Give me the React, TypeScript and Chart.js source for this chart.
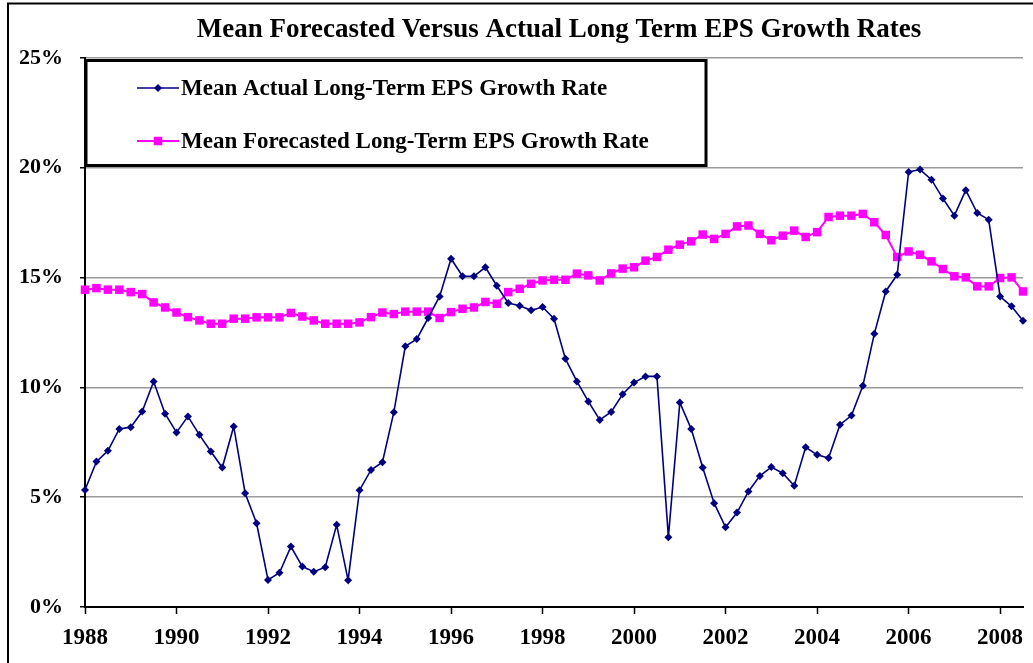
import React, { useEffect, useRef } from 'react';
import { Chart, registerables } from 'chart.js';

Chart.register(...registerables);

const TITLE = 'Mean Forecasted Versus Actual Long Term EPS Growth Rates';
const START_YEAR = 1988;
const QUARTER_COUNT = 83;
const TICK_EVERY = 8; // one label every two years (quarterly data)

const actualLabel = 'Mean Actual Long-Term EPS Growth Rate';
const forecastLabel = 'Mean Forecasted Long-Term EPS Growth Rate';

const actual = [
  5.33, 6.62, 7.11, 8.11, 8.19, 8.9, 10.27, 8.8, 7.95, 8.68,
  7.84, 7.08, 6.35, 8.22, 5.18, 3.81, 1.23, 1.56, 2.75, 1.84,
  1.61, 1.81, 3.74, 1.22, 5.32, 6.24, 6.59, 8.87, 11.87, 12.2,
  13.16, 14.14, 15.86, 15.06, 15.06, 15.47, 14.63, 13.84, 13.72, 13.51,
  13.66, 13.13, 11.3, 10.27, 9.36, 8.52, 8.88, 9.69, 10.22, 10.5,
  10.5, 3.18, 9.31, 8.1, 6.35, 4.73, 3.63, 4.3, 5.26, 5.97,
  6.37, 6.09, 5.52, 7.27, 6.93, 6.78, 8.3, 8.72, 10.07, 12.44,
  14.37, 15.13, 19.81, 19.92, 19.46, 18.6, 17.82, 18.98, 17.94, 17.64,
  14.14, 13.69, 13.04,
];

const forecast = [
  14.45, 14.52, 14.45, 14.45, 14.34, 14.25, 13.87, 13.64, 13.41, 13.2,
  13.05, 12.9, 12.9, 13.13, 13.13, 13.19, 13.19, 13.19, 13.39, 13.23,
  13.05, 12.9, 12.9, 12.9, 12.96, 13.2, 13.41, 13.34, 13.45, 13.45,
  13.45, 13.16, 13.43, 13.58, 13.64, 13.89, 13.81, 14.34, 14.49, 14.72,
  14.87, 14.9, 14.9, 15.18, 15.1, 14.87, 15.19, 15.41, 15.47, 15.77,
  15.94, 16.27, 16.5, 16.65, 16.96, 16.76, 16.99, 17.33, 17.37, 16.99,
  16.7, 16.91, 17.14, 16.85, 17.07, 17.76, 17.82, 17.82, 17.9, 17.52,
  16.94, 15.94, 16.19, 16.04, 15.74, 15.39, 15.06, 15.01, 14.6, 14.6,
  14.98, 15.01, 14.37,
];

const categories = Array.from({ length: QUARTER_COUNT }, (_, i) =>
  `${START_YEAR + Math.floor(i / 4)} Q${(i % 4) + 1}`
);

const Y_MIN = 0;
const Y_MAX = 25;
const Y_STEP = 5;

const FONT = '"Liberation Serif", "Times New Roman", serif';
const BLUE = '#000080';
const PINK = '#FF00FF';

const decorPlugin = {
  id: 'decor',
  afterDraw(chart: any) {
    const ctx = chart.ctx as CanvasRenderingContext2D;
    const area = chart.chartArea;
    ctx.save();
    // outer frame (top and left)
    ctx.strokeStyle = '#000';
    ctx.lineWidth = 2;
    ctx.beginPath();
    ctx.moveTo(8, 663);
    ctx.lineTo(8, 3.5);
    ctx.lineTo(1033, 3.5);
    ctx.stroke();

    // title
    ctx.fillStyle = '#000';
    ctx.font = `bold 27px ${FONT}`;
    ctx.textAlign = 'center';
    ctx.textBaseline = 'middle';
    ctx.fillText(TITLE, 559, 30);

    // legend box
    const bx = area.left + 1;
    const by = 60.5;
    const bw = 620;
    const bh = 105;
    ctx.fillStyle = '#fff';
    ctx.fillRect(bx, by, bw, bh);
    ctx.lineWidth = 3;
    ctx.strokeStyle = '#000';
    ctx.strokeRect(bx, by, bw, bh);

    const rows = [88, 141];
    chart.data.datasets.forEach((ds: any, i: number) => {
      const y = rows[i];
      ctx.strokeStyle = ds.borderColor;
      ctx.lineWidth = ds.borderWidth;
      ctx.beginPath();
      ctx.moveTo(137, y);
      ctx.lineTo(179, y);
      ctx.stroke();
      ctx.fillStyle = ds.pointBackgroundColor;
      const cx = 158;
      if (ds.pointStyle === 'rectRot') {
        const r = ds.pointRadius;
        ctx.beginPath();
        ctx.moveTo(cx, y - r);
        ctx.lineTo(cx + r, y);
        ctx.lineTo(cx, y + r);
        ctx.lineTo(cx - r, y);
        ctx.closePath();
        ctx.fill();
      } else {
        const s = ds.pointRadius * Math.SQRT1_2;
        ctx.fillRect(cx - s, y - s, 2 * s, 2 * s);
      }
      ctx.fillStyle = '#000';
      ctx.font = `bold 23px ${FONT}`;
      ctx.textAlign = 'left';
      ctx.textBaseline = 'middle';
      ctx.fillText(ds.label, 181, y + 1);
    });
    ctx.restore();
  },
};

export default function App() {
  const ref = useRef<HTMLCanvasElement | null>(null);

  useEffect(() => {
    if (!ref.current) return;
    const chart = new Chart(ref.current, {
      type: 'line',
      data: {
        labels: categories,
        datasets: [
          {
            label: actualLabel,
            data: actual,
            borderColor: BLUE,
            backgroundColor: BLUE,
            pointBackgroundColor: BLUE,
            pointBorderColor: BLUE,
            borderWidth: 1.6,
            pointStyle: 'rectRot',
            pointRadius: 4,
            pointBorderWidth: 0,
            tension: 0,
          },
          {
            label: forecastLabel,
            data: forecast,
            borderColor: PINK,
            backgroundColor: PINK,
            pointBackgroundColor: PINK,
            pointBorderColor: PINK,
            borderWidth: 2,
            pointStyle: 'rect',
            pointRadius: 6,
            pointBorderWidth: 0,
            tension: 0,
          },
        ],
      },
      options: {
        animation: false,
        responsive: false,
        maintainAspectRatio: false,
        layout: { padding: { left: 0, top: 58, right: 10, bottom: 0 } },
        plugins: {
          legend: { display: false },
          title: { display: false },
          tooltip: { enabled: false },
        },
        scales: {
          x: {
            type: 'category',
            offset: false,
            afterFit: (s: any) => {
              s.height = 56;
            },
            border: { color: '#000', width: 2 },
            grid: {
              drawOnChartArea: false,
              drawTicks: true,
              tickLength: 7,
              tickWidth: 1.5,
              tickColor: (c: any) => (c.index % TICK_EVERY === 0 ? '#000' : 'rgba(0,0,0,0)'),
            },
            ticks: {
              autoSkip: false,
              maxRotation: 0,
              minRotation: 0,
              padding: 10,
              color: '#000',
              font: { family: FONT, size: 23, weight: 'bold' },
              callback: (_v: any, i: number) =>
                i % TICK_EVERY === 0 ? String(START_YEAR + i / 4) : '',
            },
          },
          y: {
            min: Y_MIN,
            max: Y_MAX,
            afterFit: (s: any) => {
              s.width = 85;
            },
            border: { color: '#000', width: 2 },
            grid: {
              color: '#9a9a9a',
              lineWidth: 1.5,
              tickLength: 5,
              tickColor: '#000',
              tickWidth: 1.5,
            },
            ticks: {
              stepSize: Y_STEP,
              padding: 17,
              color: '#000',
              font: { family: FONT, size: 22, weight: 'bold' },
              callback: (v: any) => `${v}%`,
            },
          },
        },
      },
      plugins: [decorPlugin],
    });
    return () => chart.destroy();
  }, []);

  return (
    <div style={{ position: 'fixed', left: 0, top: 0, width: 1033, height: 663, background: '#fff' }}>
      <canvas ref={ref} width={1033} height={663} style={{ width: 1033, height: 663 }} />
    </div>
  );
}
